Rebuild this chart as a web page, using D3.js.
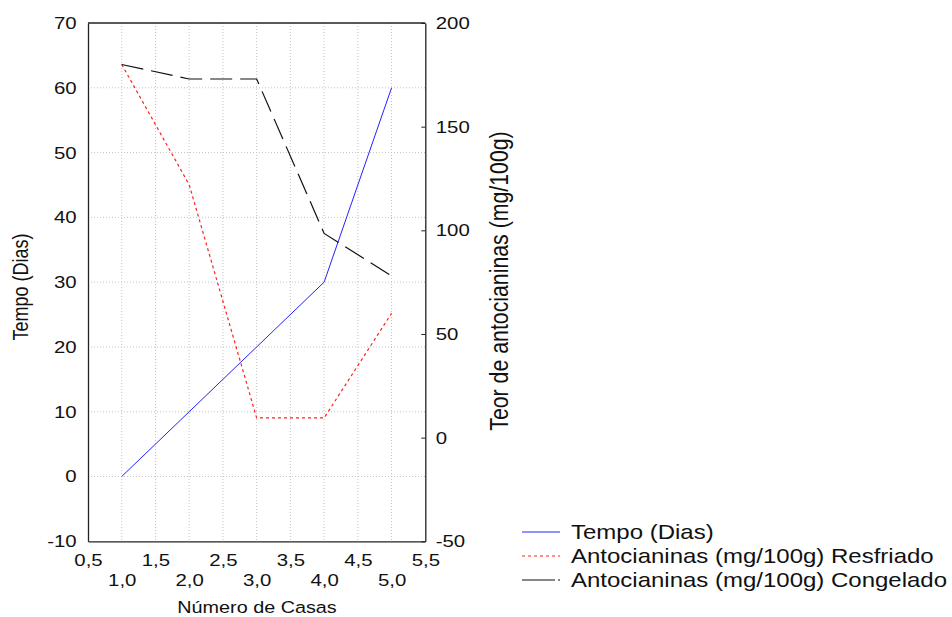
<!DOCTYPE html>
<html>
<head>
<meta charset="utf-8">
<script src="https://cdn.jsdelivr.net/npm/d3@7"></script>
<style>
  body { margin: 0; background: #fff; }
  svg text { font-family: "Liberation Sans", Arial, sans-serif; fill: #111; }
</style>
</head>
<body>
<svg id="chart"></svg>
<script>
// data
const casas = [1, 2, 3, 4, 5];
const tempoDias = [0, 10, 20, 30, 60];
const antoResfriado = [180, 122, 9.5, 9.5, 60];
const antoCongelado = [180, 173, 173, 98.5, 78];

const xTicks = [0.5, 1, 1.5, 2, 2.5, 3, 3.5, 4, 4.5, 5, 5.5];
const yLeftTicks = [-10, 0, 10, 20, 30, 40, 50, 60, 70];
const yRightTicks = [-50, 0, 50, 100, 150, 200];

const seriesNames = ['Tempo (Dias)', 'Antocianinas (mg/100g) Resfriado', 'Antocianinas (mg/100g) Congelado'];

const config = {
    width: 952, height: 617,
    left: 88, right: 425.3, top: 23, bottom: 541.3,
    stretch: 'scale(1.2,1)'
};

const svg = d3.select('#chart')
    .attr('width', config.width)
    .attr('height', config.height);

const xScale = d3.scaleLinear().domain([0.5, 5.5]).range([config.left, config.right]);
const yLeft = d3.scaleLinear().domain([-10, 70]).range([config.bottom, config.top]);
const yRight = d3.scaleLinear().domain([-50, 200]).range([config.bottom, config.top]);

const fmtComma = d => d.toFixed(1).replace('.', ',');
const fmtInt = d => String(d); // plain hyphen minus, like the original

// gridlines
const grid = svg.append('g').attr('class', 'grid')
    .attr('stroke', '#c4c4c4').attr('stroke-width', 1).attr('stroke-dasharray', '1,2');

grid.selectAll('.gx')
    .data(xTicks.slice(1, -1))
    .join('line')
    .attr('x1', d => xScale(d)).attr('x2', d => xScale(d))
    .attr('y1', config.top).attr('y2', config.bottom);

grid.selectAll('.gy')
    .data(yLeftTicks.slice(1, -1))
    .join('line')
    .attr('x1', config.left).attr('x2', config.right)
    .attr('y1', d => yLeft(d)).attr('y2', d => yLeft(d));

// axes
const xAxisG = svg.append('g')
    .attr('transform', `translate(0,${config.bottom})`)
    .call(d3.axisBottom(xScale).tickValues(xTicks).tickFormat(fmtComma).tickSize(0).tickPadding(12.4));

const yLeftG = svg.append('g')
    .attr('transform', `translate(${config.left},0)`)
    .call(d3.axisLeft(yLeft).tickValues(yLeftTicks).tickFormat(fmtInt).tickSize(0).tickPadding(9.5));

const yRightG = svg.append('g')
    .attr('transform', `translate(${config.right},0)`)
    .call(d3.axisRight(yRight).tickValues(yRightTicks).tickFormat(fmtInt).tickSizeInner(-4).tickSizeOuter(0).tickPadding(8.7));

[xAxisG, yLeftG, yRightG].forEach(g => {
    g.select('.domain').attr('stroke', '#222').attr('stroke-width', 1.3);
    g.selectAll('.tick line').attr('stroke', '#222');
    g.selectAll('text')
        .attr('font-size', 17)
        .attr('fill', '#111')
        .attr('transform', config.stretch);
});

// staggered x labels: 1,0 2,0 ... on a second row
xAxisG.selectAll('.tick text')
    .filter(d => Number.isInteger(d))
    .attr('y', 32.4);

// top border
svg.append('line')
    .attr('x1', config.left).attr('x2', config.right)
    .attr('y1', config.top).attr('y2', config.top)
    .attr('stroke', '#222').attr('stroke-width', 1.3);

// series lines
const lineLeft = d3.line().x((d, i) => xScale(casas[i])).y(d => yLeft(d));
const lineRight = d3.line().x((d, i) => xScale(casas[i])).y(d => yRight(d));

const styles = [
    {color: '#2222ff', dash: null},
    {color: '#ff2020', dash: '3,3'},
    {color: '#111111', dash: '22,8'}
];

svg.append('path').datum(tempoDias)
    .attr('d', lineLeft)
    .attr('fill', 'none').attr('stroke', styles[0].color).attr('stroke-width', 1);

svg.append('path').datum(antoResfriado)
    .attr('d', lineRight)
    .attr('fill', 'none').attr('stroke', styles[1].color).attr('stroke-width', 1.2)
    .attr('stroke-dasharray', styles[1].dash);

svg.append('path').datum(antoCongelado)
    .attr('d', lineRight)
    .attr('fill', 'none').attr('stroke', styles[2].color).attr('stroke-width', 1.2)
    .attr('stroke-dasharray', styles[2].dash);

// axis titles
svg.append('text')
    .attr('transform', 'translate(28,287) scale(1.2,1) rotate(-90)')
    .attr('text-anchor', 'middle')
    .attr('font-size', 18)
    .text('Tempo (Dias)');

svg.append('text')
    .attr('transform', 'translate(508,281) scale(1.2,1) rotate(-90)')
    .attr('text-anchor', 'middle')
    .attr('font-size', 21.3)
    .text('Teor de antocianinas (mg/100g)');

svg.append('text')
    .attr('transform', 'translate(257,613) scale(1.2,1)')
    .attr('text-anchor', 'middle')
    .attr('font-size', 16.5)
    .text('Número de Casas');

// legend
const legend = svg.append('g').attr('transform', 'translate(522,532)');
const legendRows = legend.selectAll('g')
    .data(seriesNames)
    .join('g')
    .attr('transform', (d, i) => `translate(0,${i * 24})`);

legendRows.append('line')
    .attr('x1', 0).attr('x2', 38)
    .attr('stroke', (d, i) => styles[i].color)
    .attr('stroke-width', 1.2)
    .attr('stroke-dasharray', (d, i) => i === 2 ? '33,3,3' : styles[i].dash);

legendRows.append('text')
    .attr('transform', 'translate(49,0) scale(1.2,1)')
    .attr('dy', '0.35em')
    .attr('font-size', 20)
    .text(d => d);
</script>
</body>
</html>
